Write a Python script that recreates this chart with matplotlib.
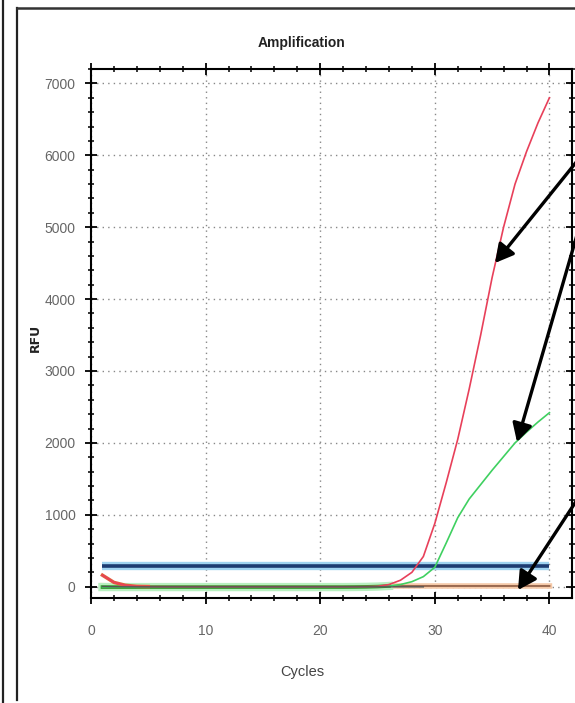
import matplotlib
matplotlib.use("Agg")
import matplotlib.pyplot as plt
import numpy as np
from matplotlib.lines import Line2D
from matplotlib.ticker import MultipleLocator

# qPCR amplification data
cycles = np.arange(1, 41)
red = np.array([160, 60, 20, 5, 2, 1, 0, 0, 0, 0,
                0, 0, 0, 0, 0, 0, 0, 0, 0, 0,
                0, 0, 0, 1, 5, 30, 90, 200, 420, 880,
                1450, 2050, 2750, 3500, 4300, 5000, 5600, 6050, 6450, 6800])
green = np.array([-5, -5, -5, -5, -5, -5, -5, -5, -5, -5,
                  -5, -5, -5, -5, -5, -5, -5, -5, -5, -5,
                  -5, -5, -4, -2, 2, 10, 30, 70, 140, 270,
                  610, 960, 1220, 1420, 1620, 1810, 2000, 2150, 2290, 2420])
negctrl = np.array([15, 12, 10, 10, 10, 10, 10, 10, 10, 10,
                    10, 10, 10, 10, 10, 10, 10, 10, 10, 10,
                    10, 10, 10, 10, 10, 10, 10, 10, 10, 10,
                    10, 10, 10, 10, 10, 10, 10, 10, 10, 10])
threshold = 290

narrow = ['Liberation Sans Narrow', 'Liberation Sans', 'DejaVu Sans']

fig = plt.figure(figsize=(5.75, 7.03), dpi=100)
ax = fig.add_axes([91/575, 1-598/703, (572-91)/575, (598-69)/703])

ax.grid(True, which='major', color='#888888', linestyle=(0, (1, 3)), linewidth=1.0)

# threshold line with light halo
ax.plot([cycles[0], cycles[-1]], [threshold, threshold], color='#9fd3f0', lw=6, solid_capstyle='butt')
ax.plot([cycles[0], cycles[-1]], [threshold, threshold], color='#1d3c72', lw=2.6, solid_capstyle='butt')

ax.plot(cycles, negctrl, color='#f5c9a8', lw=4)
ax.plot(cycles, negctrl, color='#9a6a50', lw=1.4)
ax.plot(cycles[:26], green[:26], color='#b8f0c0', lw=6)
ax.plot(cycles[:26], green[:26], color='#2f9a2a', lw=2.6)
ax.plot(cycles[:5], red[:5], color='#e0603a', lw=2.5)
ax.plot(cycles, green, color='#3fd060', lw=1.2)
ax.plot(cycles, red, color='#e8405a', lw=1.2)
ax.plot(cycles[:29], negctrl[:29] - 12, color='#555555', lw=1.0)

ax.set_xlim(0, 41.97)
ax.set_ylim(-157, 7200)
ax.xaxis.set_major_locator(MultipleLocator(10))
ax.xaxis.set_minor_locator(MultipleLocator(2))
ax.yaxis.set_major_locator(MultipleLocator(1000))
ax.yaxis.set_minor_locator(MultipleLocator(200))
ax.tick_params(which='both', direction='inout', top=True, right=True, color='black')
ax.tick_params(which='major', length=8, width=1.3, labelsize=10, labelcolor='#666666', pad=7)
ax.tick_params(axis='x', which='major', pad=15)
ax.tick_params(which='minor', length=5, width=1.1)
for lab in ax.get_xticklabels() + ax.get_yticklabels():
    lab.set_family(narrow)
for sp in ax.spines.values():
    sp.set_linewidth(1.5)

fig.text(302/575, 1-43/703, 'Amplification', ha='center', va='center',
         fontsize=10, fontweight='bold', color='#222222', family=narrow)
fig.text(302/575, 1-672/703, 'Cycles', ha='center', va='center',
         fontsize=10.5, color='#444444', family=narrow)
fig.text(35/575, 1-338/703, 'RFU', ha='center', va='center', rotation=90,
         fontsize=9, fontweight='bold', color='#222222')

# frame lines around the picture
fig.add_artist(Line2D([3/575, 3/575], [0, 1], color='#222222', lw=1.6, transform=fig.transFigure))
fig.add_artist(Line2D([17/575, 17/575], [1-700/703, 1-8/703], color='#222222', lw=1.6, transform=fig.transFigure))
fig.add_artist(Line2D([17/575, 1], [1-8/703, 1-8/703], color='#333333', lw=1.8, transform=fig.transFigure))

# arrows pointing at the curves, coming in from the right edge
arrows = [((590, 145), (495, 263)), ((590, 190), (517, 442)), ((590, 480), (518, 590))]
for (x0, y0), (x1, y1) in arrows:
    fig.add_artist(matplotlib.patches.FancyArrowPatch(
        (x0/575, 1-y0/703), (x1/575, 1-y1/703), transform=fig.transFigure,
        arrowstyle='-|>,head_length=11,head_width=6', color='black', lw=2.4,
        mutation_scale=1, shrinkA=0, shrinkB=0))

fig.savefig('out.png', dpi=100)
